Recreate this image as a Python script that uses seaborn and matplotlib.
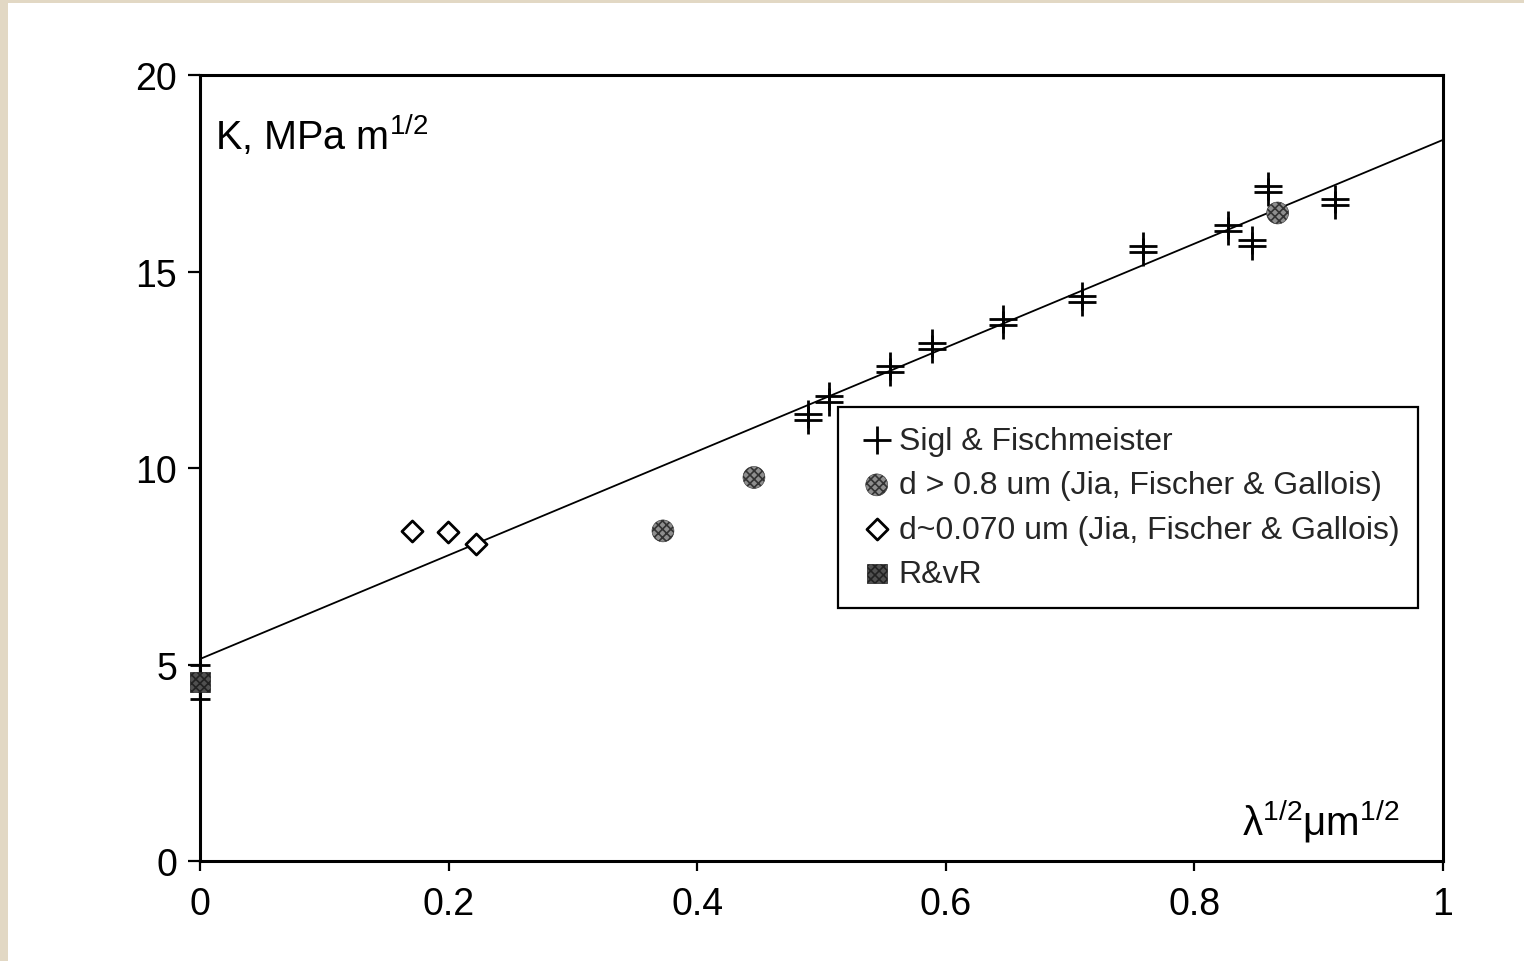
import matplotlib
matplotlib.use("Agg")
import matplotlib.pyplot as plt
import seaborn as sns
from matplotlib.transforms import ScaledTranslation
from matplotlib.patches import Rectangle

# Fracture toughness K versus square root of mean free path (lambda^1/2)
sigl_x = [0.489, 0.506, 0.555, 0.589, 0.646, 0.710, 0.759, 0.827, 0.846, 0.859, 0.913]
sigl_k = [11.30, 11.75, 12.51, 13.11, 13.71, 14.31, 15.57, 16.12, 15.73, 17.10, 16.76]

coarse_x = [0.3725, 0.4457, 0.867]
coarse_k = [8.40, 9.76, 16.49]

fine_x = [0.171, 0.1995, 0.222]
fine_k = [8.41, 8.36, 8.07]

rvr_x = [0.0]
rvr_k = [4.55]
rvr_err = [0.43]

fit_x = [0.0, 1.0]
fit_k = [5.14, 18.35]

x_ticks = [0, 0.2, 0.4, 0.6, 0.8, 1.0]
x_tick_labels = ["0", "0.2", "0.4", "0.6", "0.8", "1"]
y_ticks = [0, 5, 10, 15, 20]
y_tick_labels = ["0", "5", "10", "15", "20"]

labels = [
    "Sigl & Fischmeister",
    "d > 0.8 um (Jia, Fischer & Gallois)",
    "d~0.070 um (Jia, Fischer & Gallois)",
    "R&vR",
]

sns.set_theme(style="ticks")
plt.rcParams["font.family"] = ["Liberation Sans", "DejaVu Sans"]
plt.rcParams["mathtext.default"] = "regular"
plt.rcParams["hatch.linewidth"] = 1.2

fig = plt.figure(figsize=(15.24, 9.62), dpi=100)
fig.patch.set_facecolor("white")
# paper edge along the left and top
fig.patches.append(Rectangle((0, 0), 8 / 1524, 1, transform=fig.transFigure,
                             facecolor="#e2d8c4", edgecolor="none", zorder=0))
fig.patches.append(Rectangle((0, 1 - 4 / 962), 1, 4 / 962, transform=fig.transFigure,
                             facecolor="#e2d8c4", edgecolor="none", zorder=0))

ax = fig.add_axes([0.1312, 0.10395, 0.8156, 0.8170])
ax.set_facecolor("white")

# least-squares line
sns.lineplot(x=fit_x, y=fit_k, ax=ax, color="black", lw=1.3, zorder=2)

# Sigl & Fischmeister: each point printed as a doubled cross
dpi_tr = fig.dpi_scale_trans
up = ax.transData + ScaledTranslation(0, 0.03, dpi_tr)
down = ax.transData + ScaledTranslation(0, -0.03, dpi_tr)
sns.scatterplot(x=sigl_x, y=sigl_k, ax=ax, marker="+", s=380, color="black",
                linewidth=2.0, transform=up, label=labels[0], zorder=4)
sns.scatterplot(x=sigl_x, y=sigl_k, ax=ax, marker="+", s=380, color="black",
                linewidth=2.0, transform=down, zorder=4)

# coarse grained: grey halftone discs
sns.scatterplot(x=coarse_x, y=coarse_k, ax=ax, marker="o", s=250,
                facecolor="#8e8e8e", edgecolor="#333333", linewidth=0.4,
                hatch="xxxx", label=labels[1], zorder=4)

# fine grained: open diamonds
sns.scatterplot(x=fine_x, y=fine_k, ax=ax, marker="D", s=115,
                facecolor="white", edgecolor="black", linewidth=2.0,
                label=labels[2], zorder=4)

# R&vR with its scatter band
ax.errorbar(rvr_x, rvr_k, yerr=rvr_err, fmt="none", ecolor="black",
            elinewidth=1.6, capsize=7, capthick=2.0, zorder=3, clip_on=False)
sns.scatterplot(x=rvr_x, y=rvr_k, ax=ax, marker="s", s=200,
                facecolor="#505050", edgecolor="#222222", linewidth=0.5,
                hatch="xxxx", label=labels[3], zorder=5, clip_on=False)

ax.set_xlim(0, 1)
ax.set_ylim(0, 20)
ax.set_xticks(x_ticks)
ax.set_xticklabels(x_tick_labels)
ax.set_yticks(y_ticks)
ax.set_yticklabels(y_tick_labels)
ax.set_xlabel("")
ax.set_ylabel("")

for side in ["left", "right", "top", "bottom"]:
    ax.spines[side].set_visible(True)
    ax.spines[side].set_color("black")
    ax.spines[side].set_linewidth(2.2)

ax.tick_params(axis="x", direction="out", length=7, width=1.6, pad=11,
               labelsize=27, colors="black")
ax.tick_params(axis="y", direction="out", length=8.5, width=1.6, pad=8,
               labelsize=27, colors="black")

ax.text(0.012, 0.953, "K, MPa m$^{1/2}$", transform=ax.transAxes,
        ha="left", va="top", fontsize=28.5, color="black")
ax.text(0.965, 0.034, "λ$^{1/2}$μm$^{1/2}$", transform=ax.transAxes,
        ha="right", va="baseline", fontsize=29, color="black")

leg = ax.legend(loc="upper left", bbox_to_anchor=(0.513, 0.578),
                fontsize=23, frameon=True, fancybox=False, framealpha=1,
                edgecolor="black", borderpad=0.6, labelspacing=0.45,
                handlelength=1.25, handletextpad=0.06, borderaxespad=0,
                scatterpoints=1)
leg.get_frame().set_linewidth(1.6)

fig.savefig("out.png", dpi=100, facecolor=fig.get_facecolor())
